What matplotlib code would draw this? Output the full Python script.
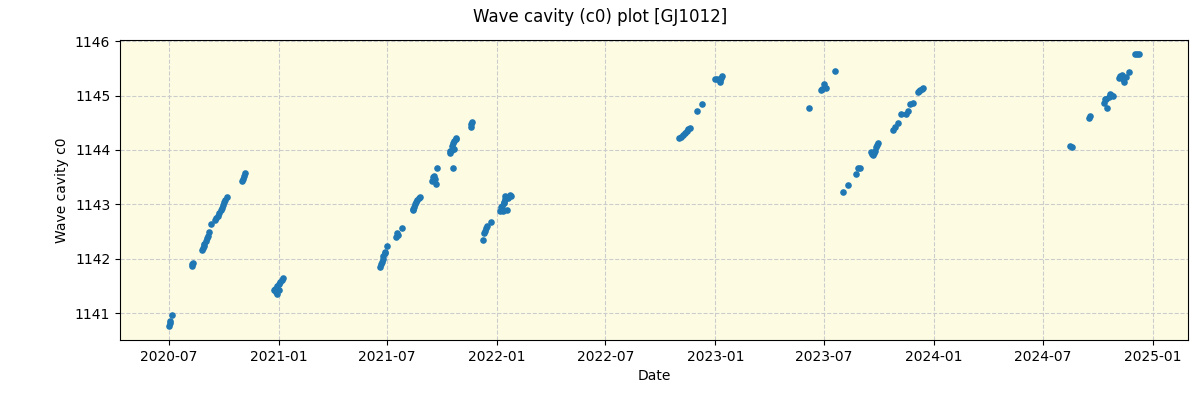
import pandas as pd
import matplotlib.pyplot as plt
import matplotlib.dates as mdates

dates = [
    "2020-07-01", "2020-07-03", "2020-07-04", "2020-07-07",
    "2020-08-09", "2020-08-10", "2020-08-11",
    "2020-08-26", "2020-08-27", "2020-08-29", "2020-08-30", "2020-09-01", "2020-09-03",
    "2020-09-05", "2020-09-07", "2020-09-10", "2020-09-17", "2020-09-19", "2020-09-21",
    "2020-09-24", "2020-09-26", "2020-09-28", "2020-09-30", "2020-10-02", "2020-10-04",
    "2020-10-07",
    "2020-11-01", "2020-11-02", "2020-11-04", "2020-11-05",
    "2020-12-24", "2020-12-26", "2020-12-28", "2020-12-29", "2020-12-30", "2021-01-01",
    "2021-01-02", "2021-01-04", "2021-01-06", "2021-01-08",
    "2021-06-20", "2021-06-21", "2021-06-22", "2021-06-24", "2021-06-25", "2021-06-27",
    "2021-06-28", "2021-07-01",
    "2021-07-17", "2021-07-18", "2021-07-19", "2021-07-27",
    "2021-08-13", "2021-08-14", "2021-08-16", "2021-08-17", "2021-08-19", "2021-08-21",
    "2021-08-23", "2021-08-25",
    "2021-09-15", "2021-09-16", "2021-09-17", "2021-09-20", "2021-09-21", "2021-09-22",
    "2021-10-14", "2021-10-15", "2021-10-17", "2021-10-18", "2021-10-19", "2021-10-20",
    "2021-10-21", "2021-10-22", "2021-10-24", "2021-10-25",
    "2021-11-18", "2021-11-19", "2021-11-20",
    "2021-12-09", "2021-12-11", "2021-12-12", "2021-12-14", "2021-12-16", "2021-12-22",
    "2022-01-06", "2022-01-08", "2022-01-10", "2022-01-11", "2022-01-12", "2022-01-13",
    "2022-01-14", "2022-01-15", "2022-01-17", "2022-01-19", "2022-01-22", "2022-01-25",
    "2022-11-02", "2022-11-05", "2022-11-08", "2022-11-11", "2022-11-14", "2022-11-17",
    "2022-11-19", "2022-12-01", "2022-12-10",
    "2023-01-01", "2023-01-03", "2023-01-08", "2023-01-09", "2023-01-11", "2023-01-13",
    "2023-06-07", "2023-06-27", "2023-06-29", "2023-07-01", "2023-07-05", "2023-07-20",
    "2023-08-02", "2023-08-10", "2023-08-24", "2023-08-28", "2023-08-31",
    "2023-09-18", "2023-09-20", "2023-09-21", "2023-09-23", "2023-09-25", "2023-09-27",
    "2023-09-28", "2023-09-30",
    "2023-10-25", "2023-10-28", "2023-11-02", "2023-11-07", "2023-11-16", "2023-11-19",
    "2023-11-22", "2023-11-27",
    "2023-12-05", "2023-12-07", "2023-12-09", "2023-12-12", "2023-12-15",
    "2024-08-16", "2024-08-19", "2024-09-16", "2024-09-18",
    "2024-10-11", "2024-10-13", "2024-10-15", "2024-10-17", "2024-10-20", "2024-10-22",
    "2024-10-24", "2024-10-26",
    "2024-11-06", "2024-11-08", "2024-11-10", "2024-11-13", "2024-11-15", "2024-11-18",
    "2024-11-23",
    "2024-12-03", "2024-12-06", "2024-12-10",
]

c0 = [
    1140.76, 1140.82, 1140.85, 1140.96,
    1141.86, 1141.90, 1141.93,
    1142.17, 1142.20, 1142.24, 1142.28, 1142.33, 1142.38,
    1142.42, 1142.49, 1142.64, 1142.71, 1142.75, 1142.78,
    1142.85, 1142.90, 1142.94, 1142.99, 1143.04, 1143.08,
    1143.13,
    1143.43, 1143.47, 1143.53, 1143.57,
    1141.42, 1141.45, 1141.40, 1141.36, 1141.50, 1141.43,
    1141.53, 1141.57, 1141.61, 1141.64,
    1141.85, 1141.90, 1141.95, 1142.00, 1142.05, 1142.10,
    1142.13, 1142.23,
    1142.40, 1142.47, 1142.44, 1142.56,
    1142.89, 1142.92, 1142.95, 1143.00, 1143.04, 1143.08,
    1143.11, 1143.13,
    1143.43, 1143.50, 1143.53, 1143.47, 1143.38, 1143.66,
    1143.94, 1143.98, 1144.00, 1144.08, 1143.67, 1144.12,
    1144.02, 1144.16, 1144.20, 1144.22,
    1144.43, 1144.47, 1144.51,
    1142.34, 1142.47, 1142.52, 1142.56, 1142.60, 1142.68,
    1142.88, 1142.95, 1142.98, 1142.88, 1143.02, 1143.05,
    1143.10, 1143.15, 1142.90, 1143.12, 1143.17, 1143.15,
    1144.22, 1144.24, 1144.27, 1144.31, 1144.35, 1144.38,
    1144.40, 1144.72, 1144.84,
    1145.30, 1145.31, 1145.28, 1145.24, 1145.32, 1145.35,
    1144.77, 1145.10, 1145.12, 1145.21, 1145.13, 1145.46,
    1143.22, 1143.35, 1143.55, 1143.66, 1143.66,
    1143.97, 1143.92, 1143.90, 1143.95, 1143.98, 1144.05,
    1144.10, 1144.13,
    1144.36, 1144.42, 1144.49, 1144.66, 1144.66, 1144.71,
    1144.84, 1144.86,
    1145.07, 1145.09, 1145.10, 1145.12, 1145.13,
    1144.07, 1144.05, 1144.58, 1144.62,
    1144.86, 1144.93, 1144.93, 1144.78, 1144.97, 1145.03,
    1145.01, 1144.99,
    1145.32, 1145.35, 1145.38, 1145.30, 1145.24, 1145.34,
    1145.44,
    1145.76, 1145.77, 1145.76,
]

df = pd.DataFrame({"date": pd.to_datetime(dates), "c0": c0})

fig = plt.figure(figsize=(12, 4), dpi=100)
ax = fig.add_axes([0.1, 0.15, 0.89, 0.75])
ax.set_facecolor("#fdfce3")
ax.scatter(df["date"], df["c0"], s=14, color="#1f77b4", zorder=3)
ax.grid(True, color="#cccccc", linestyle="--", linewidth=0.8)
ax.xaxis.set_major_locator(mdates.MonthLocator(bymonth=[1, 7]))
ax.xaxis.set_major_formatter(mdates.DateFormatter("%Y-%m"))
ax.set_xlabel("Date")
ax.set_ylabel("Wave cavity c0")
fig.suptitle("Wave cavity (c0) plot [GJ1012]", fontsize=12, y=0.98)

plt.savefig("out.png")
